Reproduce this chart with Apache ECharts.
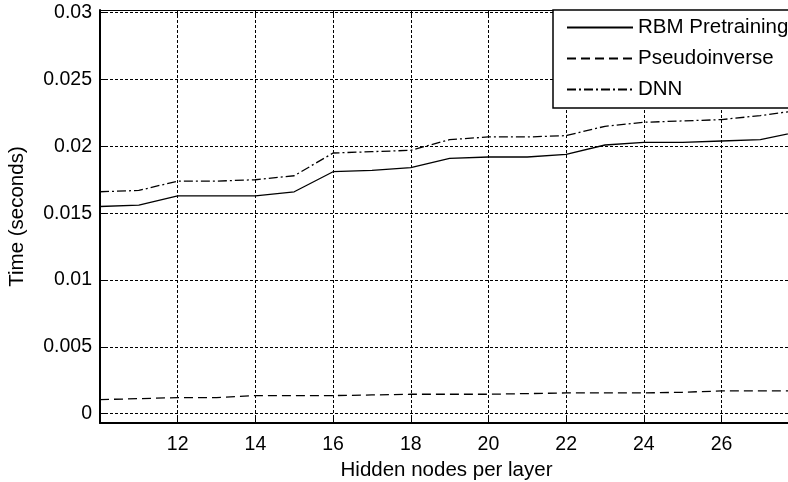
<!DOCTYPE html>
<html>
<head>
<meta charset="utf-8">
<script src="https://cdn.jsdelivr.net/npm/echarts@6/dist/echarts.min.js"></script>
<style>
html,body{margin:0;padding:0;background:#fff;}
#chart{width:788px;height:482px;}
</style>
</head>
<body>
<div id="chart"></div>
<script>
var hiddenNodes = [10,11,12,13,14,15,16,17,18,19,20,21,22,23,24,25,26,27,28];
var rbmPretraining = [0.0155,0.0156,0.0163,0.0163,0.0163,0.0166,0.0181,0.0182,0.0184,0.0191,0.0192,0.0192,0.0194,0.0201,0.0203,0.0203,0.0204,0.0205,0.0211];
var pseudoinverse = [0.00105,0.00112,0.0012,0.0012,0.00135,0.00135,0.00135,0.0014,0.00145,0.00145,0.00145,0.0015,0.00155,0.00155,0.00155,0.0016,0.0017,0.0017,0.0017];
var dnn = [0.0166,0.0167,0.0174,0.0174,0.0175,0.0178,0.0195,0.0196,0.0197,0.0205,0.0207,0.0207,0.0208,0.0215,0.0218,0.0219,0.0220,0.0223,0.0227];
var xTicks = [12,14,16,18,20,22,24,26];
var yTicks = [0,0.005,0.01,0.015,0.02,0.025,0.03];
var seriesNames = ['RBM Pretraining','Pseudoinverse','DNN'];

function pairs(ys){ return hiddenNodes.map(function(x,i){ return [x, ys[i]]; }); }

var FONT = 'Liberation Sans, Arial, sans-serif';
var chart = echarts.init(document.getElementById('chart'), null, {renderer:'canvas'});
var gridDash = [3,2];
chart.setOption({
  animation:false,
  backgroundColor:'#fff',
  textStyle:{fontFamily:FONT},
  grid:{left:100, right:-5, top:10, bottom:59, containLabel:false, outerBoundsMode:'none'},
  legend:{
    data:seriesNames,
    orient:'vertical',
    left:553, top:10,
    padding:[7,40,8,13],
    itemWidth:66, itemHeight:10, itemGap:10,
    backgroundColor:'#fff',
    borderColor:'#000', borderWidth:1.5,
    itemStyle:{color:'rgba(0,0,0,0)', borderWidth:0, opacity:0},
    textStyle:{fontFamily:FONT, fontSize:20.5, color:'#000'}
  },
  xAxis:[{
    type:'value', min:10, max:27.84,
    name:'Hidden nodes per layer', nameLocation:'middle', nameGap:35,
    nameTextStyle:{fontFamily:FONT, fontSize:20.5, color:'#000'},
    axisLine:{show:true, onZero:false, lineStyle:{color:'#000', width:2}},
    axisTick:{show:true, inside:true, length:5, customValues:xTicks, lineStyle:{color:'#000'}},
    axisLabel:{customValues:xTicks, margin:12, fontFamily:FONT, fontSize:19.5, color:'#000'},
    splitLine:{show:true, lineStyle:{color:'#000', width:1, type:gridDash}}
  },{
    type:'value', min:10, max:27.84, position:'top',
    axisLine:{show:true, onZero:false, lineStyle:{color:'#000', width:1}},
    axisTick:{show:true, inside:true, length:5, customValues:xTicks, lineStyle:{color:'#000'}},
    axisLabel:{show:false},
    splitLine:{show:false}
  }],
  yAxis:[{
    type:'value', min:-0.0007, max:0.0302,
    name:'Time (seconds)', nameLocation:'middle', nameGap:72, nameRotate:90,
    nameTextStyle:{fontFamily:FONT, fontSize:20.5, color:'#000'},
    axisLine:{show:true, onZero:false, lineStyle:{color:'#000', width:2}},
    axisTick:{show:true, inside:true, length:5, customValues:yTicks, lineStyle:{color:'#000'}},
    axisLabel:{customValues:yTicks, margin:8, fontFamily:FONT, fontSize:19.5, color:'#000',
      formatter:function(v){ return String(parseFloat(v.toFixed(4))); }},
    splitLine:{show:true, lineStyle:{color:'#000', width:1, type:gridDash}}
  }],
  series:[{
    name:seriesNames[0], type:'line', data:pairs(rbmPretraining), xAxisIndex:0,
    symbol:'none', lineStyle:{color:'#000', width:1.3, type:'solid'}, itemStyle:{color:'#000'}
  },{
    name:seriesNames[1], type:'line', data:pairs(pseudoinverse), xAxisIndex:0,
    symbol:'none', lineStyle:{color:'#000', width:1.3, type:[9,5]}, itemStyle:{color:'#000'}
  },{
    name:seriesNames[2], type:'line', data:pairs(dnn), xAxisIndex:0,
    symbol:'none', lineStyle:{color:'#000', width:1.3, type:[9,3,2,3]}, itemStyle:{color:'#000'}
  }]
});
</script>
</body>
</html>
